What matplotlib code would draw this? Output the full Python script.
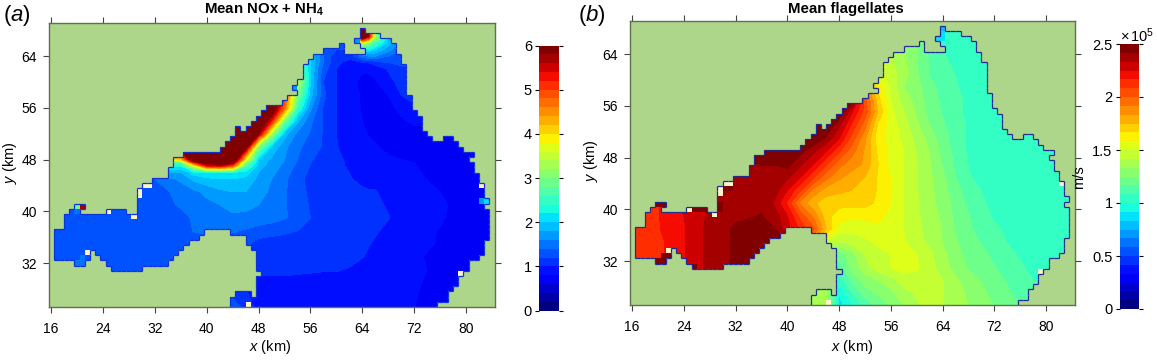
import numpy as np
import matplotlib
matplotlib.use("Agg")
from matplotlib import pyplot as plt
from matplotlib.collections import LineCollection
from matplotlib.colors import BoundaryNorm, ListedColormap

plt.rcParams['font.family'] = ['Liberation Sans', 'DejaVu Sans']
plt.rcParams['mathtext.fontset'] = 'custom'
plt.rcParams['mathtext.rm'] = 'Liberation Sans'
plt.rcParams['mathtext.it'] = 'Liberation Sans:italic'
plt.rcParams['mathtext.bf'] = 'Liberation Sans:bold'

# model grid: 0.8 km cells, cell index 0 starts at these coordinates
CELL = 0.8
X0 = 16.4
Y0 = 32.4
IX_RANGE = (-1, 85)
IY_RANGE = (-9, 46)

# water per grid column (column index 0..83): bottom and top cell index
COAST_BOTTOM = [0, 0, 0, 0, -1, -1, 0, 2, 1, 0, -1, -2, -2, -2, -2, -2, -2, -1, -1, -1,
                -1, -1, 0, 1, 2, 3, 4, 4, 5, 6, 6, 6, 6, 6, 5, 5, 5, 3, 2, -2,
                -9, -9, -9, -9, -9, -9, -9, -9, -9, -9, -9, -9, -9, -9, -9, -9, -9, -9, -9, -9,
                -9, -9, -9, -9, -9, -9, -9, -9, -9, -9, -9, -9, -9, -9, -8, -8, -6, -5, -3, -2,
                0, 0, 1, 4]
COAST_TOP = [6, 6, 9, 10, 11, 9, 9, 9, 9, 9, 10, 10, 10, 10, 9, 9, 14, 15, 15, 16,
             16, 16, 18, 20, 20, 21, 21, 21, 21, 21, 21, 21, 22, 23, 24, 26, 25, 26, 27, 28,
             29, 30, 30, 30, 31, 32, 32, 35, 38, 39, 40, 40, 41, 41, 41, 42, 40, 40, 40, 40,
             44, 44, 44, 43, 43, 42, 40, 38, 32, 29, 28, 25, 24, 23, 23, 24, 24, 23, 22, 21,
             19, 17, 15, 10]
# extra water pieces: column, bottom, top (top excluded)
EXTRA_WATER = [(5, 10, 11), (39, -9, -3), (38, -9, -7), (37, -9, -6), (36, -9, -6), (35, -9, -6),
               (34, -9, -7), (46, 33, 34), (58, 42, 43), (59, 41, 45), (80, 20, 21), (83, 11, 12)]
# cells left out of the model (pale squares): column, row
CREAM_CELLS = [(10, 9), (15, 8), (16, 12), (16, 13), (17, 14), (18, 14), (6, 1), (37, -9),
               (78, -3), (82, 14)]

# panel (a) mean NOx + NH4 read at these nodes
A_X = [16, 20, 24, 28, 32, 36, 38, 40, 42, 44, 46, 48, 50, 52, 54, 56, 58, 60, 62, 64, 65, 66, 68, 70, 72, 76, 80, 85]
A_Y = [25, 29, 31, 33, 35, 37, 39, 41, 43, 45, 46, 47, 47.5, 48, 50, 52, 54, 56, 58, 60, 62, 63, 64, 65, 66, 67, 68, 70]
A_VALUES = [
    [1.3] * 10 + [1.15, .92, .9, .9, .9, .9, .9, .9, .9, .88, .88, .86, .85, .84, .8, .75, .7, .7],
    [1.3] * 8 + [1.2, 1.05, .97, .95, .96, .97, .95, .95, .95, .95, .92, .88, .87, .86, .85, .84, .82, .75, .7, .7],
    [1.3] * 10 + [1.15, 1.05, 1.03, 1.03, 1.03, 1.02, 1.01, 1.01, .99, .93, .91, .89, .86, .84, .82, .78, .7, .7],
    [1.3] * 10 + [1.2, 1.08, 1.07, 1.07, 1.06, 1.06, 1.06, 1.06, 1.05, 1.01, .97, .93, .87, .84, .82, .76, .7, .7],
    [1.3] * 10 + [1.25, 1.12, 1.1, 1.1, 1.08, 1.06, 1.06, 1.06, 1.06, 1.04, 1.01, .98, .92, .87, .84, .79, .7, .7],
    [1.3] * 6 + [1.41, 1.45, 1.45, 1.42, 1.38, 1.32, 1.28, 1.24, 1.2, 1.1, 1.06, 1.05, 1.05, 1.05, 1.03, 1.02, .96, .9, .86, .79, .7, .7],
    [1.3] * 5 + [1.35, 1.42, 1.5, 1.55, 1.57, 1.55, 1.52, 1.48, 1.42, 1.33, 1.2, 1.08, 1.06, 1.06, 1.07, 1.07, 1.06, 1.01, .93, .88, .82, .72, .7],
    [1.3] * 4 + [1.32, 1.42, 1.47, 1.55, 1.6, 1.65, 1.65, 1.6, 1.55, 1.42, 1.3, 1.18, 1.1, 1.08, 1.06, 1.06, 1.05, 1.04, .98, .92, .88, .82, .75, .7],
    [1.3] * 4 + [1.33, 1.45, 1.55, 1.65, 1.75, 1.8, 1.8, 1.7, 1.55, 1.42, 1.3, 1.15, 1.08, 1.05, 1.03, 1.02, 1.01, 1.01, .95, .9, .86, .8, .7, .7],
    [1.4] * 5 + [1.65, 1.85, 1.95, 2.0, 2.0, 1.95, 1.75, 1.6, 1.45, 1.25, 1.15, 1.08, 1.04, 1.01, .97, .96, .95, .9, .86, .83, .76, .7, .7],
    [1.8] * 6 + [2.1, 2.2, 2.2, 2.2, 2.1, 1.8, 1.65, 1.5, 1.28, 1.17, 1.1, 1.03, 1.0, .96, .94, .93, .88, .84, .82, .75, .7, .7],
    [2.2] * 6 + [3.5, 5.2, 5.4, 4.8, 2.6, 1.9, 1.7, 1.55, 1.35, 1.19, 1.12, 1.02, .99, .94, .91, .89, .85, .82, .81, .72, .7, .7],
    [2.6] * 6 + [5.0, 6.0, 6.2, 5.8, 3.0, 1.95, 1.72, 1.58, 1.38, 1.2, 1.12, 1.02, .99, .93, .9, .88, .84, .81, .8, .7, .7, .7],
    [4.0] * 6 + [6.5, 6.5, 6.5, 6.5, 3.8, 2.0, 1.75, 1.6, 1.4, 1.22, 1.13, 1.02, .98, .92, .89, .86, .83, .8, .75, .7, .7, .7],
    [6.5] * 10 + [6.2, 3.0, 2.0, 1.65, 1.45, 1.3, 1.18, 1.01, .93, .86, .84, .82, .75, .72, .7, .7, .7, .7],
    [6.5] * 11 + [5.8, 3.3, 1.9, 1.55, 1.38, 1.18, 1.0, .93, .83, .79, .76, .72, .72, .72, .7, .7, .7],
    [6.5] * 12 + [5.3, 3.0, 1.85, 1.45, 1.18, 1.0, .9, .8, .76, .73, .73, .77, .85, .85, .85, .85],
    [6.5] * 12 + [6.4, 4.7, 2.5, 1.65, 1.18, 1.0, .9, .78, .75, .73, .75, .85, .95, .95, .95, .95],
    [6.5] * 13 + [5.0, 3.0, 1.9, 1.25, 1.0, .88, .78, .76, .77, .8, 1.0, 1.1, 1.1, 1.1, 1.1],
    [6.5] * 14 + [3.5, 2.0, 1.2, 1.0, .86, .75, .74, .78, .92, 1.08, 1.2, 1.2, 1.2, 1.2],
    [6.5] * 14 + [3.0, 2.0, 1.3, 1.0, .9, .83, .83, .86, 1.02, 1.15, 1.2, 1.2, 1.2, 1.2],
    [6.5] * 14 + [3.0, 2.0, 1.4, 1.02, .97, 1.0, 1.0, 1.1, 1.2, 1.25, 1.3, 1.3, 1.3, 1.3],
    [3.0] * 14 + [3.0, 2.0, 1.4, 1.05, 1.03, 1.5, 1.6, 1.6, 1.4, 1.3, 1.3, 1.3, 1.3, 1.3],
    [3.0] * 14 + [3.0, 2.0, 1.4, 1.2, 1.2, 2.2, 2.2, 2.0, 1.7, 1.4, 1.4, 1.4, 1.4, 1.4],
    [3.0] * 14 + [3.0, 2.0, 1.4, 1.3, 1.3, 3.5, 3.0, 2.6, 1.9, 1.5, 1.5, 1.5, 1.5, 1.5],
    [3.0] * 14 + [3.0, 2.0, 1.5, 1.5, 1.5, 6.5, 5.5, 3.2, 2.0, 1.6, 1.6, 1.6, 1.6, 1.6],
    [3.0] * 14 + [3.0, 2.0, 1.5, 1.5, 1.5, 6.5, 6.0, 2.5, 2.0, 1.6, 1.6, 1.6, 1.6, 1.6],
    [3.0] * 14 + [3.0, 2.0, 1.5, 1.5, 1.5, 6.5, 6.0, 2.5, 2.0, 1.6, 1.6, 1.6, 1.6, 1.6],
]
# single cells that differ from their surroundings: column, row, value
A_SPOTS = [(4, 10, 2.9), (5, 10, 5.7), (4, 9, 1.5), (83, 11, 2.0), (82, 11, 1.6), (59, 44, 6.2), (59, 43, 6.2),
           (58, 42, 1.7), (46, 33, 1.7), (5, -1, 1.5), (4, -1, 1.5), (5, 0, 1.5), (25, 0, 1.4)]

# panel (b) mean flagellates, in units of 1e5
B_X = [16, 20, 24, 28, 32, 36, 38, 40, 42, 44, 46, 48, 50, 52, 54, 56, 58, 60, 62, 64, 66, 68, 72, 76, 80, 85]
B_Y = [25, 27, 29, 31, 33, 35, 37, 39, 41, 43, 45, 47, 49, 51, 53, 55, 57, 59, 61, 65, 69]
B_WEST = [2.12, 2.14, 2.24, 2.36, 2.43, 2.45, 2.45]
B_VALUES = [
    B_WEST + [1.4, 1.4, 1.4, 1.4, .88, .98, 1.1, 1.18, 1.25, 1.33, 1.4, 1.44, 1.42, 1.37, 1.33, 1.25, 1.16, 1.1, 1.1],
    B_WEST + [1.4, 1.4, 1.4, 1.35, .92, 1.08, 1.2, 1.26, 1.31, 1.38, 1.43, 1.45, 1.42, 1.37, 1.32, 1.22, 1.14, 1.1, 1.1],
    B_WEST + [1.4, 1.4, 1.4, 1.3, 1.02, 1.18, 1.29, 1.33, 1.38, 1.46, 1.47, 1.46, 1.42, 1.35, 1.29, 1.2, 1.12, 1.05, 1.05],
    B_WEST + [2.45, 2.4, 1.4, 1.2, 1.12, 1.28, 1.38, 1.47, 1.5, 1.53, 1.51, 1.45, 1.38, 1.3, 1.24, 1.17, 1.1, 1.0, 1.0],
    B_WEST + [2.45, 2.4, 1.4, 1.2, 1.2, 1.3, 1.42, 1.47, 1.5, 1.52, 1.5, 1.44, 1.36, 1.28, 1.22, 1.15, 1.07, 1.03, 1.03],
    B_WEST + [2.45, 2.4, 1.8, 1.5, 1.42, 1.45, 1.48, 1.52, 1.55, 1.51, 1.44, 1.4, 1.33, 1.26, 1.2, 1.12, 1.04, 1.02, 1.02],
    [2.12, 2.16, 2.24, 2.36, 2.43, 2.43, 2.42, 2.28, 2.15, 2.02, 1.75, 1.55, 1.53, 1.55, 1.57, 1.56, 1.5, 1.44, 1.38, 1.33, 1.24, 1.18, 1.1, 1.03, 1.02, 1.02],
    [2.12, 2.16, 2.25, 2.35, 2.4, 2.42, 2.38, 2.25, 2.05, 1.9, 1.7, 1.62, 1.6, 1.6, 1.6, 1.57, 1.5, 1.43, 1.38, 1.31, 1.23, 1.17, 1.07, 1.02, 1.02, 1.02],
    [2.12, 2.16, 2.27, 2.34, 2.38, 2.4, 2.32, 2.15, 1.9, 1.77, 1.7, 1.7, 1.7, 1.7, 1.65, 1.58, 1.5, 1.43, 1.36, 1.3, 1.22, 1.15, 1.05, 1.02, 1.02, 1.02],
    [2.38, 2.38, 2.38, 2.38, 2.38, 2.38, 2.38, 2.25, 2.1, 1.9, 1.8, 1.77, 1.75, 1.72, 1.66, 1.59, 1.5, 1.42, 1.36, 1.28, 1.2, 1.12, 1.04, 1.02, 1.02, 1.02],
    [2.38, 2.38, 2.38, 2.38, 2.38, 2.38, 2.38, 2.35, 2.25, 2.1, 1.95, 1.85, 1.8, 1.75, 1.66, 1.58, 1.5, 1.42, 1.35, 1.27, 1.17, 1.09, 1.03, 1.02, 1.02, 1.02],
    [2.38, 2.38, 2.38, 2.38, 2.38, 2.42, 2.42, 2.45, 2.35, 2.25, 2.1, 1.95, 1.87, 1.82, 1.67, 1.56, 1.5, 1.42, 1.34, 1.24, 1.15, 1.08, 1.03, 1.02, 1.02, 1.02],
    [2.5, 2.5, 2.5, 2.5, 2.5, 2.5, 2.5, 2.5, 2.45, 2.35, 2.25, 2.1, 1.95, 1.82, 1.65, 1.56, 1.5, 1.41, 1.33, 1.22, 1.14, 1.07, 1.03, 1.02, 1.02, 1.02],
    [2.5] * 10 + [2.4, 2.25, 2.05, 1.85, 1.62, 1.55, 1.48, 1.39, 1.3, 1.2, 1.13, 1.07, 1.03, 1.02, 1.02, 1.02],
    [2.5] * 11 + [2.35, 2.15, 1.95, 1.65, 1.55, 1.45, 1.35, 1.25, 1.18, 1.12, 1.07, 1.03, 1.02, 1.02, 1.02],
    [2.5] * 12 + [2.25, 2.05, 1.75, 1.53, 1.42, 1.32, 1.22, 1.16, 1.1, 1.07, 1.03, 1.02, 1.02, 1.02],
    [2.5] * 13 + [2.05, 1.7, 1.5, 1.38, 1.3, 1.2, 1.15, 1.1, 1.07, 1.03, 1.02, 1.02, 1.02],
    [2.5] * 13 + [1.9, 1.62, 1.48, 1.33, 1.28, 1.19, 1.14, 1.09, 1.06, 1.03, 1.02, 1.02, 1.02],
    [2.5] * 14 + [1.55, 1.45, 1.38, 1.26, 1.16, 1.12, 1.08, 1.05, 1.03, 1.02, 1.02, 1.02],
    [1.8] * 15 + [1.4, 1.33, 1.25, 1.15, 1.08, 1.03, 1.03, 1.02, 1.02, 1.02, 1.02],
    [1.8] * 15 + [1.4, 1.33, 1.25, 1.15, 1.08, 1.03, 1.03, 1.02, 1.02, 1.02, 1.02],
]
B_SPOTS = [(4, 10, 2.5), (5, 10, 2.5), (6, 0, 2.5), (5, 0, 2.45), (4, -1, 2.5), (5, -1, 2.5), (11, 9, 2.42), (12, 9, 2.5),
           (13, 9, 2.42), (16, 10, 2.5), (16, 9, 2.45), (17, 13, 2.5), (18, 13, 2.45), (11, -2, 2.5), (18, -2, 2.5),
           (59, 44, .78), (59, 43, .85), (59, 42, .85), (58, 42, .85)]

A_TICKS_CB = [0, 1, 2, 3, 4, 5, 6]
B_TICKS_CB = [0, 0.5, 1, 1.5, 2, 2.5]
B_TICKLABELS_CB = ['0', '0.5', '1', '1.5', '2', '2.5']
X_TICKS = [16, 24, 32, 40, 48, 56, 64, 72, 80]
Y_TICKS = [32, 40, 48, 56, 64]

LAND = '#aed68a'
CREAM = '#fff4c8'
W, H = 1157, 361


def add_axes(left, right, top, bottom):
    """axes from pixel edges of the picture"""
    return fig.add_axes([left / W, 1 - bottom / H, (right - left) / W, (bottom - top) / H])


def cell_grids():
    """land / cream masks on the model grid"""
    ncol = IX_RANGE[1] - IX_RANGE[0]
    nrow = IY_RANGE[1] - IY_RANGE[0]
    water = np.zeros((nrow, ncol), dtype=bool)
    for i in range(len(COAST_TOP)):
        water[COAST_BOTTOM[i] - IY_RANGE[0]:COAST_TOP[i] - IY_RANGE[0], i - IX_RANGE[0]] = True
    for col, b, t in EXTRA_WATER:
        water[b - IY_RANGE[0]:t - IY_RANGE[0], col - IX_RANGE[0]] = True
    # notch of land on the island shore
    water[-3 - IY_RANGE[0], 39 - IX_RANGE[0]] = False
    cream = np.zeros_like(water)
    for col, row in CREAM_CELLS:
        cream[row - IY_RANGE[0], col - IX_RANGE[0]] = True
    return water, cream


def coast_segments(mask, xe, ye):
    """unit edges between water and the rest, as line segments"""
    segs = []
    nrow, ncol = mask.shape
    for r in range(nrow):
        for c in range(ncol - 1):
            if mask[r, c] != mask[r, c + 1]:
                segs.append([(xe[c + 1], ye[r]), (xe[c + 1], ye[r + 1])])
    for r in range(nrow - 1):
        for c in range(ncol):
            if mask[r, c] != mask[r + 1, c]:
                segs.append([(xe[c], ye[r + 1]), (xe[c + 1], ye[r + 1])])
    return segs


def map_panel(ax, xs, ys, values, spots, vmax, coast_colour):
    levels = np.linspace(0, vmax, 31)
    cols = plt.get_cmap('jet')(np.linspace(0, 1, 30))
    cmap = ListedColormap(cols)
    cmap.set_over(cols[-1])
    cmap.set_under(cols[0])
    norm = BoundaryNorm(levels, 30)

    ax.contourf(xs, ys, np.array(values), levels=levels, cmap=cmap, norm=norm, extend='both')

    water, cream = cell_grids()
    xe = X0 + CELL * np.arange(IX_RANGE[0], IX_RANGE[1] + 1)
    ye = Y0 + CELL * np.arange(IY_RANGE[0], IY_RANGE[1] + 1)

    spot = np.ma.masked_all(water.shape)
    for col, row, v in spots:
        spot[row - IY_RANGE[0], col - IX_RANGE[0]] = v
    ax.pcolormesh(xe, ye, spot, cmap=cmap, norm=norm)

    land = np.ma.masked_where(water, np.ones(water.shape))
    ax.pcolormesh(xe, ye, land, cmap=ListedColormap([LAND]))
    pale = np.ma.masked_where(~cream, np.ones(water.shape))
    ax.pcolormesh(xe, ye, pale, cmap=ListedColormap([CREAM]))

    ax.add_collection(LineCollection(coast_segments(water, xe, ye), colors=coast_colour, linewidths=0.9))
    ax.set_xlim(xe[0], xe[-1])
    ax.set_ylim(ye[0], ye[-1])

    ax.set_xticks(X_TICKS)
    ax.set_yticks(Y_TICKS)
    ax.tick_params(direction='out', length=4, width=0.8, color='#444444', top=True, right=True,
                   labelsize=10)
    ax.tick_params(axis='x', pad=7)
    ax.tick_params(axis='y', pad=4.5)
    for s in ax.spines.values():
        s.set_color('#5f6f50')
        s.set_linewidth(1.0)
    return cmap, norm, levels


def colour_bar(ax, cmap, norm, levels, ticks, ticklabels):
    ax.pcolormesh([0, 1], levels, np.array(levels[:-1]).reshape(-1, 1) + 1e-6, cmap=cmap, norm=norm)
    ax.set_xticks([])
    ax.set_yticks(ticks)
    ax.set_yticklabels(ticklabels)
    ax.tick_params(direction='out', length=3, width=0.8, left=True, right=True, labelsize=10.5, pad=2)
    for s in ax.spines.values():
        s.set_visible(False)


fig = plt.figure(figsize=(W / 100, H / 100), dpi=100)

ax_a = add_axes(48.5, 494.5, 22.5, 307)
cmap_a, norm_a, lev_a = map_panel(ax_a, A_X, A_Y, A_VALUES, A_SPOTS, 6.0, '#1030d8')
ax_b = add_axes(629.5, 1074.5, 20.5, 305)
cmap_b, norm_b, lev_b = map_panel(ax_b, B_X, B_Y, B_VALUES, B_SPOTS, 2.5, '#202a90')

cb_a = add_axes(539, 559, 45.5, 310.5)
colour_bar(cb_a, cmap_a, norm_a, lev_a, A_TICKS_CB, [str(t) for t in A_TICKS_CB])
cb_b = add_axes(1119.5, 1139, 44, 309)
colour_bar(cb_b, cmap_b, norm_b, lev_b, B_TICKS_CB, B_TICKLABELS_CB)


def px_text(x, y, s, **kw):
    fig.text(x / W, 1 - y / H, s, ha=kw.pop('ha', 'center'), va=kw.pop('va', 'center'), **kw)


px_text(264, 10, r'Mean NOx + NH$_{\mathbf{4}}$', fontsize=10.8, fontweight='bold')
px_text(846, 9, 'Mean flagellates', fontsize=10.8, fontweight='bold')
px_text(16.5, 15, r'($\mathit{a}$)', fontsize=16)
px_text(592, 15, r'($\mathit{b}$)', fontsize=16)
px_text(270, 347, r'$\mathit{x}$ (km)', fontsize=10.5)
px_text(852, 347, r'$\mathit{x}$ (km)', fontsize=10.5)
px_text(10, 163, r'$\mathit{y}$ (km)', fontsize=10.5, rotation=90)
px_text(591, 161, r'$\mathit{y}$ (km)', fontsize=10.5, rotation=90)
px_text(1079, 177, 'm/s', fontsize=10.5, rotation=90)
px_text(1137, 36, r'$\times\,10^{5}$', fontsize=10.5)

fig.savefig('out.png', dpi=100)
